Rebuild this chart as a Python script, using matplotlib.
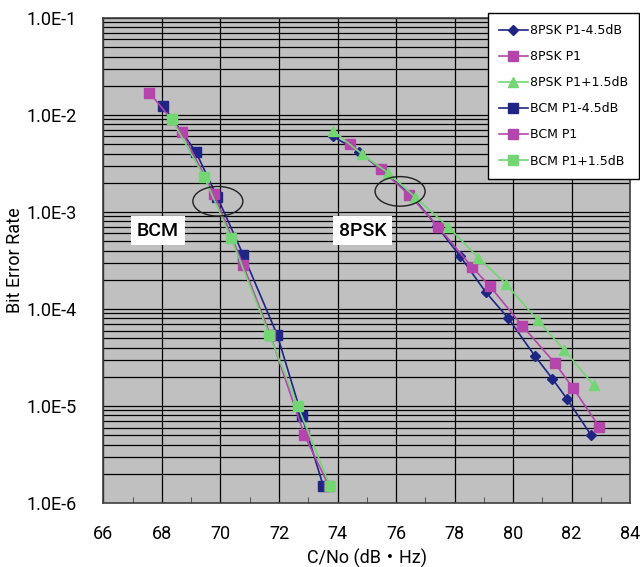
import matplotlib
matplotlib.use("Agg")
import matplotlib.pyplot as plt
from matplotlib.patches import Ellipse
from matplotlib.ticker import FixedLocator, FixedFormatter, LogLocator, NullFormatter

FONT = ['Roboto', 'Noto Sans CJK JP', 'DejaVu Sans']

# 8PSK
psk_m45_x = [73.84, 74.74, 76.50, 77.39, 78.19, 79.07, 79.84, 80.75, 81.34, 81.84, 82.67]
psk_m45_y = [6.0e-3, 4.2e-3, 1.51e-3, 7.2e-4, 3.5e-4, 1.49e-4, 8.0e-5, 3.27e-5, 1.92e-5, 1.19e-5, 5.0e-6]
psk_p1_x = [74.43, 75.48, 76.46, 77.45, 78.59, 79.21, 80.32, 81.44, 82.04, 82.95]
psk_p1_y = [5.0e-3, 2.77e-3, 1.49e-3, 7.0e-4, 2.72e-4, 1.72e-4, 6.7e-5, 2.75e-5, 1.55e-5, 6.1e-6]
psk_p15_x = [73.84, 74.83, 75.74, 76.65, 77.79, 78.82, 79.75, 80.84, 81.75, 82.76]
psk_p15_y = [6.9e-3, 3.96e-3, 2.52e-3, 1.43e-3, 7.0e-4, 3.37e-4, 1.83e-4, 7.7e-5, 3.78e-5, 1.64e-5]

# BCM
bcm_m45_x = [68.04, 69.15, 69.89, 70.78, 71.94, 72.78, 73.51]
bcm_m45_y = [1.245e-2, 4.2e-3, 1.43e-3, 3.59e-4, 5.4e-5, 7.9e-6, 1.51e-6]
bcm_p1_x = [67.57, 68.69, 69.77, 70.78, 71.70, 72.87, 73.70]
bcm_p1_y = [1.70e-2, 6.6e-3, 1.55e-3, 2.81e-4, 5.4e-5, 5.0e-6, 1.51e-6]
bcm_p15_x = [68.33, 69.44, 70.36, 71.67, 72.64, 73.74]
bcm_p15_y = [9.1e-3, 2.30e-3, 5.4e-4, 5.4e-5, 1.0e-5, 1.51e-6]

x_ticks = [66, 68, 70, 72, 74, 76, 78, 80, 82, 84]
y_ticks = [1e-6, 1e-5, 1e-4, 1e-3, 1e-2, 1e-1]
y_labels = ['1.0E-6', '1.0E-5', '1.0E-4', '1.0E-3', '1.0E-2', '1.0E-1']

navy = '#1e2585'
magenta = '#b545ad'
green = '#72d672'

fig = plt.figure(figsize=(6.4, 5.67), dpi=100)
ax = fig.add_axes([0.1617, 0.1129, 0.8227, 0.8554])
ax.set_facecolor('#c0c0c0')

ax.plot(psk_m45_x, psk_m45_y, color=navy, marker='D', ms=5, lw=1.2, label='8PSK P1-4.5dB', zorder=3)
ax.plot(psk_p1_x, psk_p1_y, color=magenta, marker='s', ms=7, lw=1.2, label='8PSK P1', zorder=3)
ax.plot(psk_p15_x, psk_p15_y, color=green, marker='^', ms=7, lw=1.2, label='8PSK P1+1.5dB', zorder=3)
ax.plot(bcm_m45_x, bcm_m45_y, color=navy, marker='s', ms=7, lw=1.2, label='BCM P1-4.5dB', zorder=3)
ax.plot(bcm_p1_x, bcm_p1_y, color=magenta, marker='s', ms=7, lw=1.2, label='BCM P1', zorder=3)
ax.plot(bcm_p15_x, bcm_p15_y, color=green, marker='s', ms=7, lw=1.2, label='BCM P1+1.5dB', zorder=3)

ax.set_yscale('log')
ax.set_xlim(66, 84)
ax.set_ylim(1e-6, 1e-1)

ax.xaxis.set_major_locator(FixedLocator(x_ticks))
ax.xaxis.set_minor_locator(FixedLocator([v + 1 for v in x_ticks[:-1]]))
ax.yaxis.set_major_locator(FixedLocator(y_ticks))
ax.yaxis.set_major_formatter(FixedFormatter(y_labels))
ax.yaxis.set_minor_locator(LogLocator(base=10, subs=range(2, 10)))
ax.yaxis.set_minor_formatter(NullFormatter())

ax.grid(True, which='major', axis='both', color='black', lw=0.9, zorder=1)
ax.grid(True, which='minor', axis='y', color='black', lw=0.9, zorder=1)
ax.set_axisbelow(True)

ax.tick_params(axis='x', which='major', length=0, pad=16, labelsize=13)
ax.tick_params(axis='x', which='minor', direction='in', length=4, color='#404040')
ax.tick_params(axis='y', which='both', length=0, pad=19, labelsize=13)
for lab in ax.get_xticklabels() + ax.get_yticklabels():
    lab.set_family(FONT)

for sp in ax.spines.values():
    sp.set_color('#404040')
    sp.set_linewidth(1.2)

ax.set_xlabel('C/No (dB・Hz)', fontsize=13, family=FONT, labelpad=4)
ax.set_ylabel('Bit Error Rate', fontsize=13, family=FONT, labelpad=2)

# annotations
for txt, tx in [('BCM', 67.86), ('8PSK', 74.87)]:
    ax.text(tx, 6.44e-4, txt, fontsize=14, family=FONT, fontweight='medium',
            ha='center', va='center',
            bbox=dict(facecolor='white', edgecolor='none', pad=4), zorder=4)

to_axes = ax.transAxes.inverted()
for cx, cy in [(69.91, 1.29e-3), (76.14, 1.63e-3)]:
    ex, ey = to_axes.transform(ax.transData.transform((cx, cy)))
    ax.add_patch(Ellipse((ex, ey), 0.095, 0.061, transform=ax.transAxes,
                         facecolor='none', edgecolor='#202020', lw=1.0, zorder=4))

leg = ax.legend(loc='upper right', bbox_to_anchor=(0.9984, 0.9776), bbox_transform=fig.transFigure,
                fontsize=9, frameon=True, fancybox=False, framealpha=1, edgecolor='black',
                labelspacing=1.05, handlelength=2.3, handletextpad=0.15, borderpad=0.9,
                borderaxespad=0, markerscale=0.95)
leg.get_frame().set_linewidth(1.0)
leg.set_zorder(5)

fig.savefig('out.png', dpi=100)
